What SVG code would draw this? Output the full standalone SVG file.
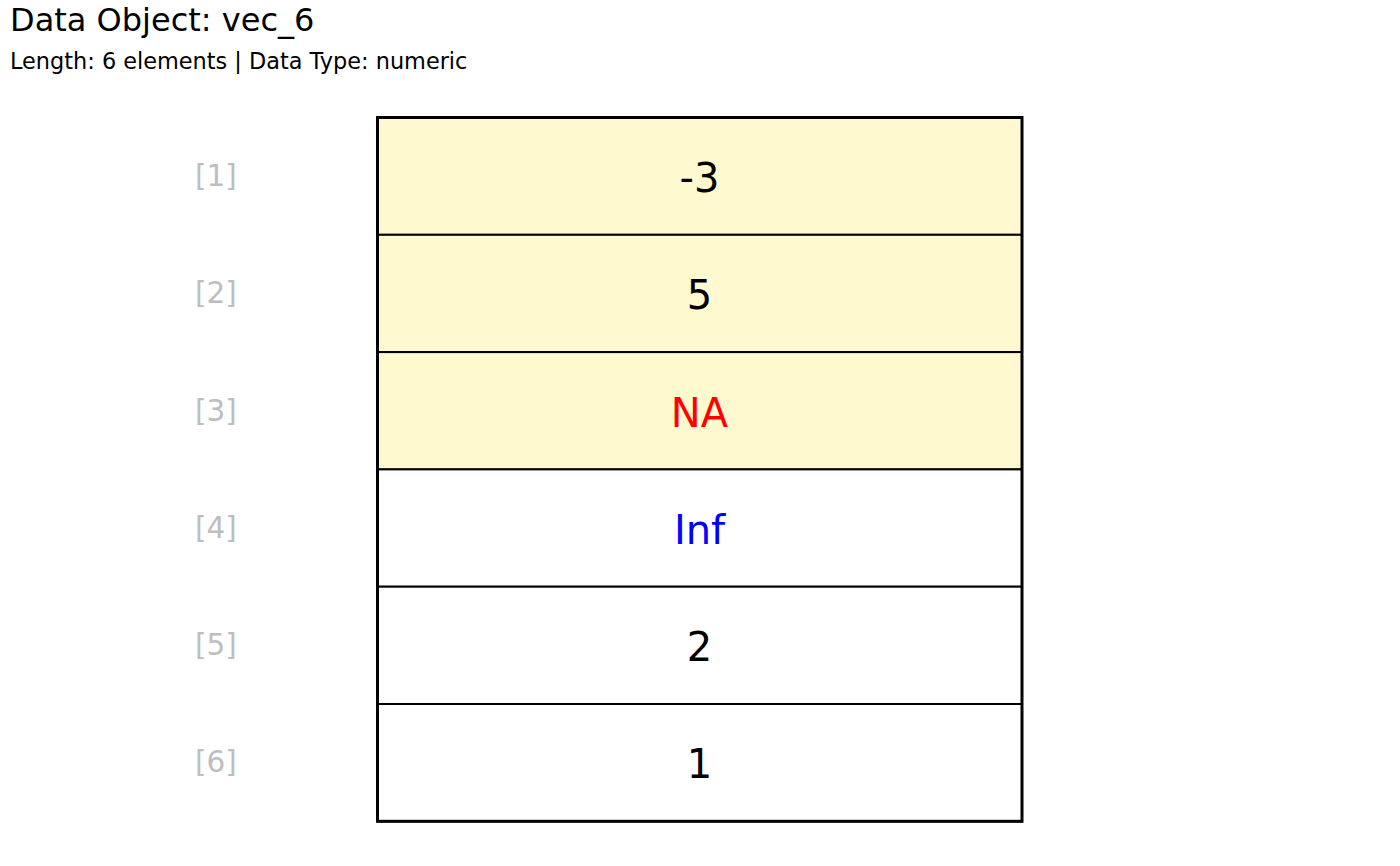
<svg xmlns="http://www.w3.org/2000/svg" width="1400" height="866" viewBox="0 0 1400 866">
<style>
text{font-family:"DejaVu Sans",sans-serif}
.title{font-size:32px;fill:#000}
.sub{font-size:22.4px;fill:#000}
.idx{font-size:29.5px;fill:#BEBEBE;text-anchor:middle}
.val{font-size:40px;fill:#000;text-anchor:middle}
.cell{stroke:#000;stroke-width:2}
.hl{fill:#FFF9D0}
.pl{fill:#FFFFFF}
</style>
<rect width="1400" height="866" fill="#fff"/>
<text class="title" x="10" y="31">Data Object: vec_6</text>
<text class="sub" x="10" y="69">Length: 6 elements | Data Type: numeric</text>
<g id="cell1"><rect class="cell hl" x="377.5" y="117.5" width="644.5" height="117.3"/><text class="idx" x="216" y="186">[1]</text><text class="val" x="699.5" y="192">-3</text></g>
<g id="cell2"><rect class="cell hl" x="377.5" y="234.8" width="644.5" height="117.3"/><text class="idx" x="216" y="303">[2]</text><text class="val" x="699.5" y="309">5</text></g>
<g id="cell3"><rect class="cell hl" x="377.5" y="352.1" width="644.5" height="117.3"/><text class="idx" x="216" y="421">[3]</text><text class="val" x="699.5" y="427" style="fill:#FF0000">NA</text></g>
<g id="cell4"><rect class="cell pl" x="377.5" y="469.4" width="644.5" height="117.3"/><text class="idx" x="216" y="538">[4]</text><text class="val" x="699.5" y="544" style="fill:#0000FF">Inf</text></g>
<g id="cell5"><rect class="cell pl" x="377.5" y="586.7" width="644.5" height="117.3"/><text class="idx" x="216" y="655">[5]</text><text class="val" x="699.5" y="661">2</text></g>
<g id="cell6"><rect class="cell pl" x="377.5" y="704" width="644.5" height="117.3"/><text class="idx" x="216" y="772">[6]</text><text class="val" x="699.5" y="778">1</text></g>
<g id="connectors"></g>
<rect x="377.5" y="117.5" width="644.5" height="703.8" fill="none" stroke="#000" stroke-width="3"/>
</svg>
